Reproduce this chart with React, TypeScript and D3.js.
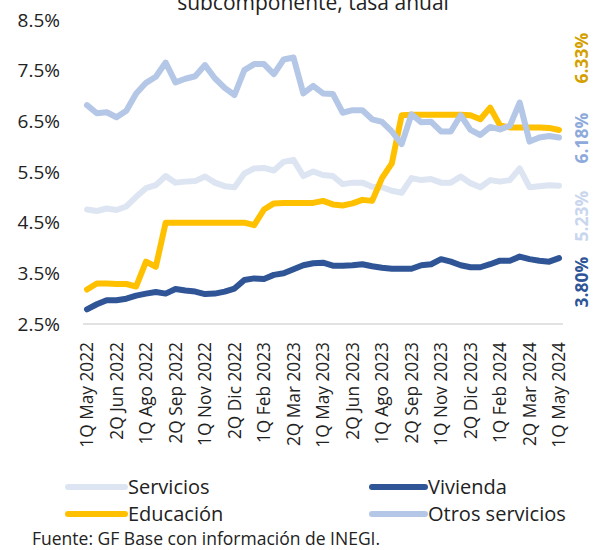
import React from "react";
import * as d3 from "d3";

const categories = [
  "1Q May 2022","2Q May 2022","1Q Jun 2022","2Q Jun 2022","1Q Jul 2022","2Q Jul 2022","1Q Ago 2022","2Q Ago 2022",
  "1Q Sep 2022","2Q Sep 2022","1Q Oct 2022","2Q Oct 2022","1Q Nov 2022","2Q Nov 2022","1Q Dic 2022","2Q Dic 2022",
  "1Q Ene 2023","2Q Ene 2023","1Q Feb 2023","2Q Feb 2023","1Q Mar 2023","2Q Mar 2023","1Q Abr 2023","2Q Abr 2023",
  "1Q May 2023","2Q May 2023","1Q Jun 2023","2Q Jun 2023","1Q Jul 2023","2Q Jul 2023","1Q Ago 2023","2Q Ago 2023",
  "1Q Sep 2023","2Q Sep 2023","1Q Oct 2023","2Q Oct 2023","1Q Nov 2023","2Q Nov 2023","1Q Dic 2023","2Q Dic 2023",
  "1Q Ene 2024","2Q Ene 2024","1Q Feb 2024","2Q Feb 2024","1Q Mar 2024","2Q Mar 2024","1Q Abr 2024","2Q Abr 2024",
  "1Q May 2024",
];

const servicios = [4.76,4.73,4.78,4.75,4.82,5.01,5.18,5.24,5.42,5.29,5.31,5.32,5.41,5.29,5.22,5.20,5.47,5.57,5.58,5.53,5.70,5.74,5.42,5.51,5.44,5.42,5.26,5.29,5.29,5.21,5.20,5.13,5.09,5.38,5.34,5.36,5.29,5.29,5.41,5.28,5.20,5.34,5.31,5.34,5.57,5.20,5.22,5.24,5.23];
const vivienda = [2.79,2.89,2.97,2.97,3.00,3.06,3.10,3.13,3.10,3.19,3.16,3.14,3.09,3.10,3.14,3.20,3.37,3.40,3.39,3.47,3.50,3.58,3.66,3.70,3.71,3.65,3.65,3.66,3.68,3.64,3.61,3.59,3.59,3.59,3.66,3.68,3.78,3.73,3.66,3.62,3.62,3.68,3.75,3.75,3.83,3.78,3.75,3.73,3.80];
const educacion = [3.18,3.30,3.30,3.29,3.29,3.24,3.73,3.63,4.50,4.50,4.50,4.50,4.50,4.50,4.50,4.50,4.50,4.45,4.76,4.88,4.89,4.89,4.89,4.89,4.93,4.86,4.84,4.88,4.95,4.93,5.38,5.67,6.62,6.63,6.63,6.63,6.63,6.63,6.63,6.62,6.54,6.77,6.42,6.38,6.38,6.38,6.38,6.37,6.33];
const otros = [6.82,6.66,6.68,6.58,6.71,7.05,7.26,7.38,7.66,7.27,7.34,7.39,7.61,7.35,7.16,7.02,7.51,7.63,7.63,7.43,7.72,7.76,7.05,7.20,7.05,7.04,6.67,6.72,6.72,6.54,6.49,6.30,6.05,6.64,6.48,6.49,6.30,6.30,6.62,6.33,6.23,6.39,6.34,6.41,6.87,6.10,6.18,6.21,6.18];

const yTicks = [2.5, 3.5, 4.5, 5.5, 6.5, 7.5, 8.5];
const endLabels = [
  { text: "6.33%", color: "#D4A000", y: 58 },
  { text: "6.18%", color: "#8EA9DB", y: 138 },
  { text: "5.23%", color: "#C9D6EE", y: 216 },
  { text: "3.80%", color: "#2F5597", y: 282 },
];

const seriesList = [
  { name: "Servicios", values: servicios, color: "#DDE5F3" },
  { name: "Vivienda", values: vivienda, color: "#2F5597" },
  { name: "Educación", values: educacion, color: "#FFC000" },
  { name: "Otros servicios", values: otros, color: "#B4C7E7" },
];

const FONT = "'Open Sans', 'Noto Sans', sans-serif";

export default function App() {
  const W = 597, H = 550;
  const x = d3.scalePoint<string>().domain(categories).range([87, 559]);
  const y = d3.scaleLinear().domain([2.5, 8.5]).range([324, 20]);
  const line = d3
    .line<number>()
    .x((_, i) => x(categories[i]) as number)
    .y((v) => y(v))
    .curve(d3.curveLinear);

  const legend = [
    { s: seriesList[0], x1: 68, x2: 125, y: 487 },
    { s: seriesList[1], x1: 372, x2: 425, y: 487 },
    { s: seriesList[2], x1: 68, x2: 125, y: 514 },
    { s: seriesList[3], x1: 372, x2: 425, y: 514 },
  ];

  return (
    <svg width={W} height={H} style={{ position: "absolute", left: 0, top: 0, background: "#fff" }} fontFamily={FONT}>
      <text x={313} y={10} textAnchor="middle" fontSize={21} fill="#222">subcomponente, tasa anual</text>
      {yTicks.map((t) => (
        <text key={t} x={60} y={y(t)} dy="0.35em" textAnchor="end" fontSize={19} fill="#222">
          {t.toFixed(1)}%
        </text>
      ))}
      <line x1={83} x2={563} y1={y(2.5)} y2={y(2.5)} stroke="#D9D9D9" strokeWidth={1.5} />
      {categories.map((c, i) =>
        i % 3 === 0 ? (
          <text key={c} transform={`translate(${(x(c) as number) + 6},342) rotate(-90)`} textAnchor="end" fontSize={17.3} fill="#222">
            {c}
          </text>
        ) : null
      )}
      {seriesList.map((s) => (
        <path key={s.name} d={line(s.values) || ""} fill="none" stroke={s.color} strokeWidth={6} strokeLinejoin="round" strokeLinecap="round" />
      ))}
      {endLabels.map((l) => (
        <text key={l.text} transform={`translate(588,${l.y}) rotate(-90)`} textAnchor="middle" fontSize={17.5} fontWeight="bold" fill={l.color}>
          {l.text}
        </text>
      ))}
      {legend.map((l) => (
        <g key={l.s.name}>
          <line x1={l.x1} x2={l.x2} y1={l.y} y2={l.y} stroke={l.s.color} strokeWidth={6} strokeLinecap="round" />
          <text x={l.x2 + 3} y={l.y} dy="0.35em" fontSize={20} fill="#222">{l.s.name}</text>
        </g>
      ))}
      <text x={32} y={545} fontSize={17.5} fill="#222">Fuente: GF Base con información de INEGI.</text>
    </svg>
  );
}
